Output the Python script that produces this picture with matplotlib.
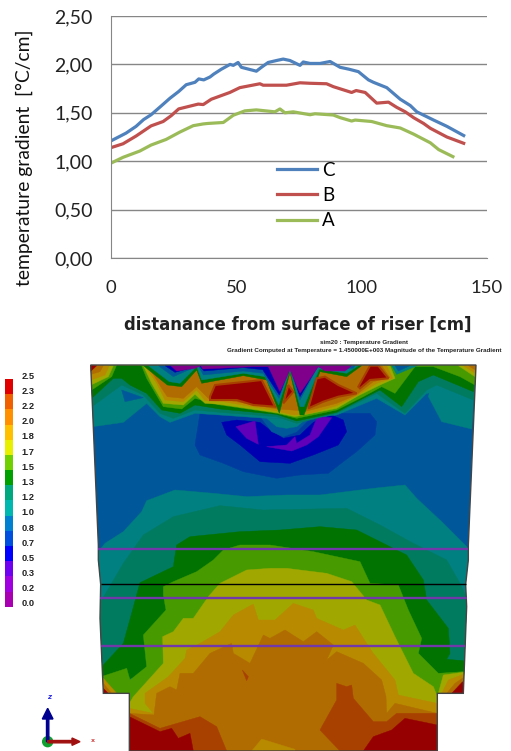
#!/usr/bin/env python3
import matplotlib
matplotlib.use("Agg")
import matplotlib.pyplot as plt
from matplotlib.patches import Circle, Polygon

W, H = 511, 751

# gradient along the three lines of the section
X_C = [0, 3, 6, 10, 13, 16, 20, 23.5, 27, 30, 33.5, 35, 37, 39.5, 41, 44, 47.5, 48.8, 50.7, 52, 55, 58, 60, 62.7, 66, 68.7,
       71.4, 75.4, 76.7, 79.4, 83.4, 87.4, 91.4, 95, 98.7, 102.7, 104.7, 110, 115.4, 119.4, 122, 128.7, 134, 140.7]
Y_C = [1.21, 1.25, 1.29, 1.36, 1.43, 1.48, 1.57, 1.65, 1.72, 1.79, 1.815, 1.85, 1.84, 1.87, 1.90, 1.95, 2.00, 1.99, 2.02,
       1.97, 1.95, 1.93, 1.97, 2.02, 2.04, 2.055, 2.04, 1.99, 2.025, 2.01, 2.01, 2.03, 1.97, 1.95, 1.925, 1.84, 1.815,
       1.76, 1.64, 1.575, 1.51, 1.425, 1.36, 1.265]
X_B = [0, 4.8, 10, 16, 20.8, 24, 27, 34.8, 36.8, 40, 47.4, 51.4, 59.4, 60.7, 70, 75.4, 79.4, 86, 88.7, 96, 97.8, 101.4,
       106, 110.7, 114, 117.4, 120.7, 124.7, 127.4, 134, 140.7]
Y_B = [1.14, 1.18, 1.26, 1.365, 1.41, 1.47, 1.54, 1.59, 1.585, 1.64, 1.71, 1.76, 1.80, 1.785, 1.785, 1.81, 1.805, 1.80,
       1.77, 1.71, 1.73, 1.71, 1.60, 1.61, 1.556, 1.51, 1.45, 1.39, 1.34, 1.25, 1.185]
X_A = [0, 4.8, 11.5, 16, 22, 27.4, 32.8, 36.8, 38.7, 44.8, 48.8, 53.4, 58, 65.4, 67.4, 69.4, 72.7, 79.4, 81.4, 88.7, 91.4,
       96, 97.4, 104, 110, 115.4, 120.7, 127.4, 130.7, 136.4]
Y_A = [0.98, 1.04, 1.105, 1.167, 1.225, 1.30, 1.367, 1.385, 1.39, 1.40, 1.475, 1.52, 1.53, 1.51, 1.54, 1.50, 1.51, 1.48,
       1.49, 1.477, 1.45, 1.415, 1.425, 1.41, 1.367, 1.343, 1.28, 1.19, 1.12, 1.047]

Y_TICKS = [0, 0.5, 1, 1.5, 2, 2.5]
Y_TICK_LABELS = ["0,00", "0,50", "1,00", "1,50", "2,00", "2,50"]
X_TICKS = [0, 50, 100, 150]

# colour scale
SCALE_LABELS = ["2.5", "2.3", "2.2", "2.0", "1.8", "1.7", "1.5", "1.3", "1.2", "1.0", "0.8", "0.7", "0.5", "0.3", "0.2", "0.0"]
SCALE_COLORS = ["#e00000", "#f06000", "#ff9000", "#ffc000", "#e8f000", "#70d000", "#00a000", "#00a880",
                "#00b8b0", "#0080d0", "#0050e0", "#0000ff", "#7000f0", "#a000e0", "#a800b0"]

# contour bands of the section, traced in the lower axes units
OUTLINE = [(32, 90), (1188, 90), (1165, 630), (1165, 675), (1157, 748), (1160, 815), (1150, 1075), (1072, 1075),
           (1072, 1248), (148, 1248), (148, 1075), (70, 1075), (60, 850), (62, 748), (55, 675), (55, 630)]
TEAL_LOW = [(55, 650), (75, 625), (130, 590), (185, 530), (200, 497), (285, 465), (400, 475), (500, 485), (620, 480),
            (720, 480), (880, 460), (975, 450), (1010, 490), (1085, 560), (1150, 625), (1165, 640), (1165, 1100), (55, 1100)]
SEA_LOW = [(62, 800), (95, 745), (130, 685), (190, 600), (280, 545), (420, 512), (550, 525), (800, 520), (900, 570),
           (1000, 625), (1100, 675), (1140, 745), (1165, 800), (1165, 1000), (55, 1000)]
GREEN_LOW = [(70, 990), (130, 925), (155, 835), (180, 743), (280, 695), (290, 630), (330, 605), (480, 590), (600, 585),
             (720, 575), (830, 585), (920, 630), (980, 660), (1030, 735), (1040, 795), (1105, 880), (1110, 955),
             (1100, 973), (1150, 977), (1165, 1030), (60, 1030)]
LIGHT_LOW = [(250, 755), (280, 740), (350, 710), (400, 675), (430, 645), (480, 630), (570, 630), (700, 650), (840, 680),
             (870, 745), (955, 750), (985, 825), (1025, 910), (1015, 955), (1075, 1015), (1150, 1010), (1150, 1110),
             (70, 1110), (70, 1023), (140, 1000), (150, 1035), (200, 995), (190, 900), (258, 825), (250, 780)]
OLIVE_LOW = [(385, 785), (420, 745), (500, 705), (570, 700), (620, 700), (740, 715), (815, 740), (860, 795), (900, 810),
             (945, 905), (1000, 1015), (1060, 1055), (1072, 1085), (1072, 1248), (148, 1248), (148, 1105), (160, 1085),
             (250, 985), (248, 905), (280, 890), (310, 850), (340, 850)]
AMBER_LOW = [(520, 807), (535, 855), (585, 855), (640, 805), (700, 825), (710, 850), (790, 885), (825, 870), (860, 925),
             (880, 955), (945, 1035), (955, 1080), (1072, 1105), (1072, 1248), (148, 1248), (148, 1120), (220, 1135),
             (195, 1105), (195, 1075), (265, 1025), (315, 970), (320, 945), (360, 925), (420, 890), (460, 840)]
ORANGE_LOW = [(550, 900), (570, 910), (615, 885), (670, 920), (710, 890), (760, 930), (740, 975), (770, 950), (850, 985),
              (905, 1035), (918, 1085), (920, 1135), (945, 1105), (1072, 1135), (1072, 1248), (148, 1248), (148, 1135),
              (222, 1140), (230, 1075), (270, 1055), (290, 1065), (300, 1015), (340, 1015), (390, 955), (455, 925),
              (460, 955), (510, 985)]
RUST_LEFT = [(148, 1135), (240, 1180), (360, 1145), (410, 1175), (440, 1248), (148, 1248)]
RUST_RIGHT = [(770, 1045), (800, 1055), (815, 1050), (820, 1090), (880, 1160), (920, 1160), (950, 1135), (1072, 1135),
              (1072, 1248), (780, 1248), (720, 1185), (770, 1095)]
RUST_SPOT = [(487, 1005), (505, 1025), (500, 1037)]
RED_LEFT = [(148, 1145), (240, 1190), (275, 1180), (295, 1210), (330, 1195), (340, 1248), (148, 1248)]
RED_RIGHT = [(1072, 1170), (975, 1150), (935, 1185), (880, 1205), (850, 1248), (1072, 1248)]
AMBER_BOTTOM = [(515, 1248), (545, 1212), (645, 1243), (645, 1248)]
CORNER_L1 = [(70, 1030), (110, 1075), (70, 1075)]
CORNER_L2 = [(70, 1045), (95, 1075), (70, 1075)]
CORNER_L3 = [(70, 1060), (85, 1075), (70, 1075)]
CORNER_R1 = [(1075, 1075), (1090, 1020), (1150, 1012), (1150, 1075)]
CORNER_R2 = [(1085, 1075), (1105, 1035), (1150, 1018), (1150, 1075)]
CORNER_R3 = [(1100, 1075), (1125, 1045), (1150, 1028), (1150, 1075)]
CORNER_R4 = [(1115, 1075), (1148, 1040), (1150, 1075)]

BLUE_MID = [(360, 235), (345, 330), (360, 360), (430, 385), (490, 410), (590, 430), (660, 420), (745, 415), (790, 380),
            (830, 350), (885, 300), (890, 260), (870, 235), (770, 235)]
BLUE_DEEP = [(425, 262), (440, 300), (480, 330), (540, 380), (630, 385), (700, 360), (775, 330), (800, 290), (790, 255),
             (755, 240), (700, 262), (660, 300), (610, 310), (570, 285), (540, 262), (470, 255)]
NOTCH_BLUE = [(545, 250), (575, 290), (610, 305), (650, 290), (690, 250)]
NOTCH_TEAL = [(560, 250), (590, 275), (620, 280), (650, 275), (680, 250)]
VIOLET_L = [(468, 275), (525, 258), (535, 328), (500, 310)]
VIOLET_R = [(755, 248), (712, 245), (690, 300), (650, 325), (645, 305), (620, 330), (560, 335), (635, 348), (680, 330), (715, 305)]

TEAL_TOP = [(38, 275), (130, 262), (200, 205), (240, 245), (270, 262), (345, 235), (420, 240), (560, 250), (680, 250),
            (770, 240), (890, 190), (975, 240), (1040, 175), (1085, 260), (1175, 282), (1188, 90), (32, 90)]
ISLAND_L = [(125, 165), (190, 188), (135, 200)]
ISLAND_R = [(1040, 178), (1047, 175), (1038, 195)]
SEA_TOP = [(36, 215), (125, 150), (190, 180), (240, 235), (280, 250), (345, 225), (420, 232), (590, 245), (650, 265),
           (770, 235), (890, 175), (975, 235), (1040, 165), (1070, 150), (1180, 195), (1188, 90), (32, 90)]
GREEN_TOP = [(35, 190), (100, 130), (125, 130), (150, 150), (200, 175), (245, 225), (300, 235), (345, 210), (420, 222),
             (590, 238), (650, 258), (770, 232), (850, 190), (900, 165), (965, 215), (1015, 140), (1060, 120), (1180, 170),
             (1188, 90), (32, 90)]
LIGHT_TOP = [(35, 165), (95, 125), (110, 90), (185, 92), (200, 130), (250, 215), (305, 222), (345, 190), (420, 210),
             (590, 235), (650, 250), (770, 225), (850, 185), (905, 155), (945, 175), (1005, 95), (1060, 95), (1140, 125),
             (1185, 150), (1188, 90), (32, 90)]
OLIVE_TOP = [(190, 92), (215, 145), (250, 205), (310, 210), (345, 178), (375, 205), (420, 208), (590, 233), (645, 245),
             (770, 220), (835, 182), (900, 150), (945, 130), (930, 92)]
AMBER_TOP = [(200, 100), (230, 145), (255, 195), (310, 200), (350, 165), (375, 197), (430, 200), (590, 228), (640, 240),
             (690, 235), (770, 212), (830, 182), (890, 145), (938, 130), (920, 92), (200, 92)]
ORANGE_TOP = [(215, 110), (245, 160), (262, 185), (310, 190), (350, 155), (385, 190), (440, 195), (590, 222), (680, 228),
              (770, 205), (828, 180), (880, 140), (930, 128), (905, 92), (215, 92)]
COLD_GREEN = [(190, 92), (262, 150), (305, 155), (350, 105), (365, 145), (490, 122), (560, 135), (598, 235), (630, 112),
              (660, 240), (672, 240), (720, 110), (800, 125), (845, 92)]
COLD_TEAL = [(205, 92), (268, 140), (300, 145), (350, 95), (365, 135), (490, 115), (555, 125), (596, 210), (630, 105),
             (660, 215), (672, 215), (718, 102), (800, 115), (835, 92)]
COLD_BLUE = [(235, 92), (280, 125), (355, 92), (370, 120), (490, 108), (550, 115), (597, 190), (630, 100), (660, 195),
             (712, 97), (820, 100), (825, 92)]
COLD_DEEP = [(255, 92), (285, 112), (358, 92), (372, 108), (490, 98), (548, 104), (598, 180), (630, 95), (660, 185),
             (712, 95), (815, 92)]
COLD_PURPLE = [(272, 92), (290, 108), (345, 100), (362, 92), (368, 102), (520, 95), (565, 95), (600, 170), (630, 105),
               (660, 175), (715, 95), (735, 108), (795, 108), (815, 92)]
STREAK_TEAL = [(935, 92), (950, 118), (1012, 92)]
STREAK_BLUE = [(945, 92), (955, 108), (990, 92)]
CORNER_TL1 = [(33, 150), (85, 125), (100, 92), (32, 90)]
CORNER_TL2 = [(33, 135), (75, 120), (88, 92), (32, 90)]
CORNER_TL3 = [(33, 118), (60, 110), (70, 92), (32, 90)]
CORNER_TL4 = [(32, 90), (50, 92), (33, 108)]
CORNER_TR1 = [(1135, 92), (1185, 125), (1188, 90)]
CORNER_TR2 = [(1150, 92), (1186, 115), (1188, 90)]
CORNER_TR3 = [(1165, 92), (1186, 105), (1188, 90)]
RED_1 = [(390, 185), (405, 150), (500, 140), (545, 135), (585, 215), (520, 210), (470, 195), (390, 195)]
RED_2 = [(610, 205), (625, 150), (640, 170)]
RED_3 = [(685, 220), (710, 130), (735, 125), (775, 150), (830, 175), (775, 185), (730, 200)]
RED_4 = [(835, 155), (870, 92), (895, 92), (925, 130), (870, 135), (840, 160)]

PURPLE_LINES = [(55, 1165, 642), (60, 1160, 788), (64, 1156, 934)]
BLACK_LINE = (62, 1157, 748)

C_BLUE, C_DARKBLUE, C_DEEP, C_VIOLET, C_PURPLE = "#00589a", "#003ca0", "#0000b0", "#6000b8", "#80008c"
C_TEAL, C_SEA, C_GREEN, C_LIGHT, C_OLIVE = "#008080", "#007b60", "#007300", "#479b00", "#a0a800"
C_AMBER, C_ORANGE, C_RUST, C_RED = "#b88a00", "#b06c00", "#a84000", "#960000"

BANDS = [
    (TEAL_LOW, C_TEAL), (SEA_LOW, C_SEA), (GREEN_LOW, C_GREEN), (LIGHT_LOW, C_LIGHT), (OLIVE_LOW, C_OLIVE),
    (AMBER_LOW, C_AMBER), (ORANGE_LOW, C_ORANGE), (RUST_LEFT, C_RUST), (RUST_RIGHT, C_RUST), (RUST_SPOT, C_RUST),
    (RED_LEFT, C_RED), (RED_RIGHT, C_RED), (AMBER_BOTTOM, C_AMBER),
    (CORNER_L1, C_AMBER), (CORNER_L2, C_ORANGE), (CORNER_L3, C_RED),
    (CORNER_R1, C_OLIVE), (CORNER_R2, C_AMBER), (CORNER_R3, C_ORANGE), (CORNER_R4, C_RED),
    (BLUE_MID, C_DARKBLUE), (BLUE_DEEP, C_DEEP), (NOTCH_BLUE, C_BLUE), (NOTCH_TEAL, C_TEAL),
    (VIOLET_L, C_VIOLET), (VIOLET_R, C_VIOLET),
    (TEAL_TOP, C_TEAL), (ISLAND_L, C_BLUE), (ISLAND_R, C_BLUE), (SEA_TOP, C_SEA), (GREEN_TOP, C_GREEN), (LIGHT_TOP, C_LIGHT),
    (OLIVE_TOP, C_OLIVE), (AMBER_TOP, C_AMBER), (ORANGE_TOP, C_ORANGE),
    (COLD_GREEN, C_GREEN), (COLD_TEAL, C_TEAL), (COLD_BLUE, C_BLUE), (COLD_DEEP, C_DEEP), (COLD_PURPLE, C_PURPLE),
    (STREAK_TEAL, C_TEAL), (STREAK_BLUE, C_BLUE),
    (CORNER_TL1, C_OLIVE), (CORNER_TL2, C_AMBER), (CORNER_TL3, C_ORANGE), (CORNER_TL4, C_RED),
    (CORNER_TR1, C_OLIVE), (CORNER_TR2, C_AMBER), (CORNER_TR3, C_ORANGE),
]
HOT_SPOTS = [RED_1, RED_2, RED_3, RED_4]


def box(left, top, right, bottom):
    return [left / W, 1 - bottom / H, (right - left) / W, (bottom - top) / H]


def draw_line_chart(fig):
    ax = fig.add_axes(box(111, 16, 487, 258))
    ax.plot(X_C, Y_C, color="#4f81bd", lw=2.3, label="C")
    ax.plot(X_B, Y_B, color="#c0504d", lw=2.3, label="B")
    ax.plot(X_A, Y_A, color="#9bbb59", lw=2.3, label="A")
    ax.set_xlim(0, 150)
    ax.set_ylim(0, 2.5)
    ax.set_yticks(Y_TICKS, Y_TICK_LABELS, fontsize=14, family="Lato", color="#222222")
    ax.set_xticks(X_TICKS, [str(v) for v in X_TICKS], fontsize=13.3, family="Lato", color="#222222")
    ax.tick_params(length=0, pad=13, axis="y")
    ax.tick_params(length=0, pad=16, axis="x")
    ax.grid(axis="y", color="#868686", lw=1)
    ax.set_axisbelow(True)
    for side in ["top", "right"]:
        ax.spines[side].set_visible(False)
    for side in ["left", "bottom"]:
        ax.spines[side].set_color("#868686")
    ax.legend(loc="upper left", bbox_to_anchor=(0.441, 0.398), frameon=False, borderaxespad=0, borderpad=0,
              handlelength=2.15, handletextpad=0.25, labelspacing=0.44, prop={"family": "Lato", "size": 13.5})
    fig.text(24 / W, 1 - 158 / H, "temperature gradient  [°C/cm]", rotation=90, ha="center", va="center",
             fontsize=13.9, family="Lato", color="#111111")
    fig.text(298 / W, 1 - 325 / H, "distanance from surface of riser [cm]", ha="center", va="center",
             fontsize=11.9, family="DejaVu Sans", weight="bold", color="#222222")


def draw_section(fig):
    # 3 units per pixel, same scale both ways
    ax = fig.add_axes([0, 0, 1, 1], facecolor="none")
    ax.set_xlim(-240, 1293)
    ax.set_ylim(1248, -1005)
    ax.axis("off")

    shape = Polygon(OUTLINE, closed=True, facecolor=C_BLUE, edgecolor="none")
    ax.add_patch(shape)
    for pts, color in BANDS:
        patch = Polygon(pts, closed=True, facecolor=color, edgecolor=color, lw=0.3)
        ax.add_patch(patch)
        patch.set_clip_path(shape)
    for pts in HOT_SPOTS:
        patch = Polygon(pts, closed=True, facecolor=C_RED, edgecolor=C_RUST, lw=1.5)
        ax.add_patch(patch)
        patch.set_clip_path(shape)
    ax.add_patch(Polygon(OUTLINE, closed=True, fill=False, edgecolor="#444444", lw=1))

    for x0, x1, y in PURPLE_LINES:
        ax.plot([x0, x1], [y, y], color="#7038a8", lw=1.7, solid_capstyle="butt")
    ax.plot(BLACK_LINE[:2], [BLACK_LINE[2], BLACK_LINE[2]], color="black", lw=1, solid_capstyle="butt")

    # axis triad
    ax.add_patch(Circle((-97, 1220), 15, color="#10a030", zorder=3))
    ax.arrow(-97, 1220, 0, -100, width=7, head_width=32, head_length=32, length_includes_head=True,
             color="#000090", zorder=4)
    ax.arrow(-97, 1220, 97, 0, width=7, head_width=22, head_length=24, length_includes_head=True,
             color="#a01010", zorder=4)
    ax.text(-94, 1086, "z", color="#3030e0", fontsize=5, style="italic", weight="bold", ha="center", va="center")
    ax.text(40, 1215, "x", color="#d04040", fontsize=4.5, weight="bold", ha="center", va="center")

    fig.text(364 / W, 1 - 342.7 / H, "sim20 : Temperature Gradient", ha="center", va="center",
             fontsize=4.5, family="Liberation Sans", weight="bold", color="#222222")
    fig.text(364.5 / W, 1 - 351 / H, "Gradient Computed at Temperature = 1.450000E+003 Magnitude of the Temperature Gradient",
             ha="center", va="center", fontsize=4.5, family="Liberation Sans", weight="bold", color="#222222")


def draw_scale(fig):
    ax = fig.add_axes(box(5.3, 379, 12.7, 606.7))
    n = len(SCALE_COLORS)
    ax.barh(range(n), [1] * n, height=1, color=SCALE_COLORS[::-1], align="edge")
    ax.set_xlim(0, 1)
    ax.set_ylim(0, n)
    ax.axis("off")
    for i, lab in enumerate(SCALE_LABELS):
        ax.text(2.2, n - i + 0.18, lab, fontsize=6.7, family="Liberation Sans", weight="bold", color="#222222",
                ha="left", va="center", clip_on=False)


fig = plt.figure(figsize=(W / 100, H / 100), dpi=100)
draw_line_chart(fig)
draw_section(fig)
draw_scale(fig)
fig.savefig("out.png", dpi=100)
